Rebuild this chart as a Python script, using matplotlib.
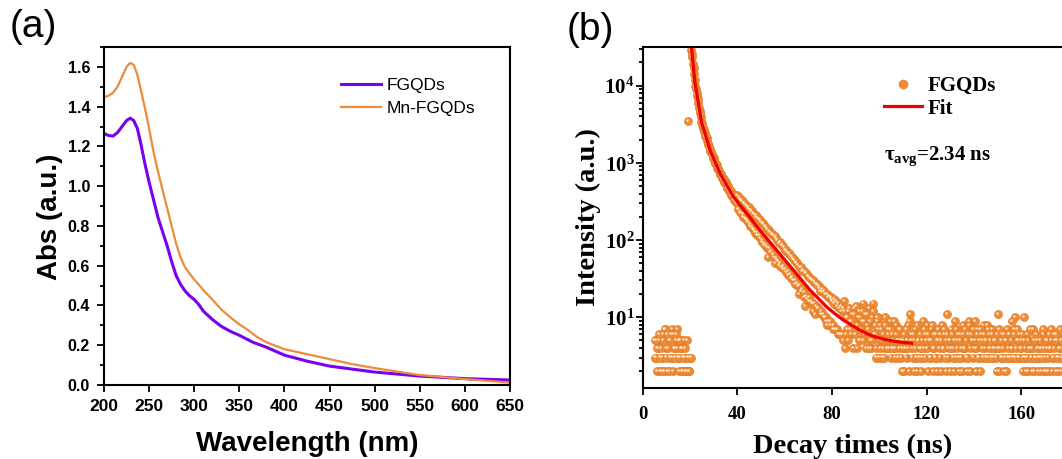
import numpy as np
import matplotlib
matplotlib.use("Agg")
import matplotlib.pyplot as plt
from matplotlib.ticker import MultipleLocator, LogLocator, FuncFormatter, NullFormatter
from matplotlib.transforms import offset_copy
from matplotlib.lines import Line2D

# ---- (a) absorption spectra ----
wl_fg = [200, 205, 210, 215, 220, 225, 229, 233, 237, 241, 245, 250, 255, 260, 265,
         270, 275, 280, 285, 290, 295, 300, 305, 310, 320, 330, 340, 350, 365, 380,
         400, 425, 450, 475, 500, 550, 600, 650]
abs_fg = [1.265, 1.255, 1.252, 1.27, 1.30, 1.33, 1.342, 1.33, 1.29, 1.21, 1.12, 1.02,
          0.93, 0.84, 0.77, 0.70, 0.62, 0.55, 0.505, 0.472, 0.448, 0.43, 0.405, 0.372,
          0.33, 0.295, 0.27, 0.25, 0.215, 0.19, 0.15, 0.12, 0.095, 0.08, 0.065,
          0.045, 0.032, 0.025]

wl_mn = [200, 205, 210, 215, 220, 225, 229, 233, 237, 241, 245, 250, 255, 260, 265,
         270, 275, 280, 285, 290, 295, 300, 305, 310, 320, 330, 340, 350, 360, 370,
         380, 400, 425, 450, 475, 500, 550, 600, 650]
abs_mn = [1.448, 1.455, 1.47, 1.50, 1.55, 1.60, 1.62, 1.61, 1.56, 1.48, 1.40, 1.29,
          1.17, 1.07, 0.98, 0.89, 0.80, 0.71, 0.64, 0.59, 0.56, 0.53, 0.505, 0.478,
          0.43, 0.38, 0.34, 0.305, 0.275, 0.24, 0.215, 0.18, 0.155, 0.13, 0.105,
          0.085, 0.05, 0.03, 0.012]

# ---- (b) PL decay, counts per channel (channels every 0.25 ns, split in two lists) ----
t_start = 5.0
t_step = 0.5
counts = [
    5, 3, 2, 4, 5, 2, 3, 6, 2, 7,
    4, 2, 5, 3, 6, 7, 2, 4, 5, 7,
    3, 2, 5, 4, 2, 5, 3, 2, 3500, 2,
    3, 29000, 23500, 16800, 11800, 9000, 7300, 6000, 4700, 3950,
    3250, 2800, 2600, 2230, 2080, 1780, 1650, 1430, 1370, 1200,
    1150, 1010, 980, 860, 830, 720, 710, 640, 630, 560,
    560, 490, 500, 430, 445, 380, 395, 340, 355, 310,
    380, 250, 340, 225, 320, 200, 300, 185, 275, 170,
    255, 150, 235, 140, 215, 125, 200, 115, 185, 105,
    170, 95, 160, 85, 145, 80, 60, 130, 70, 120,
    115, 60, 50, 105, 55, 48, 95, 45, 85, 42,
    75, 38, 70, 35, 65, 32, 60, 30, 55, 27,
    50, 25, 20, 44, 22, 40, 18, 14, 37, 17,
    34, 16, 31, 15, 12, 29, 11, 27, 13, 25,
    22, 11, 21, 10, 20, 9, 8, 18, 8, 17,
    16, 7, 15, 7, 14, 6, 13, 6, 12, 5,
    16, 4, 10, 7, 12, 9, 6, 11, 8, 13,
    7, 4, 10, 12, 5, 9, 15, 6, 11, 4,
    8, 13, 5, 4, 10, 15, 6, 3, 9, 7,
    3, 8, 3, 6, 3, 10, 5, 7, 4, 9,
    3, 6, 4, 3, 8, 5, 3, 7, 3, 2,
    5, 2, 4, 3, 8, 2, 11, 6, 3, 2,
    7, 3, 2, 5, 4, 2, 3, 9, 4, 6,
    8, 2, 5, 3, 7, 2, 4, 3, 6, 2,
    5, 3, 2, 8, 4, 6, 2, 11, 3, 5,
    2, 7, 4, 2, 9, 3, 5, 2, 6, 3,
    2, 8, 4, 3, 2, 6, 9, 2, 5, 3,
    4, 9, 2, 7, 3, 2, 6, 5, 8, 4,
    5, 8, 3, 6, 4, 7, 3, 5, 4, 2,
    11, 2, 4, 3, 6, 2, 5, 2, 7, 3,
    6, 4, 9, 3, 7, 10, 5, 3, 6, 4,
    5, 2, 10, 3, 2, 6, 2, 4, 3, 2,
    7, 2, 3, 5, 2, 4, 3, 2, 6, 2,
    3, 2, 5, 2, 4, 7, 2, 3, 6, 2,
    5, 2, 3, 4, 2, 6, 3, 2, 5, 3, 4,
]
counts_mid = [
    3, 5, 4, 6, 3, 4, 2, 5, 7, 3,
    6, 4, 2, 5, 3, 6, 4, 3, 6, 4,
    5, 3, 4, 2, 3, 4, 2, 5, 3, 2,
    3, 26000, 19000, 14200, 9800, 8000, 6700, 5200, 4400, 3400,
    3100, 2650, 2450, 2200, 1900, 1750, 1510, 1380, 1310, 1160,
    1100, 990, 930, 840, 790, 710, 690, 620, 610, 545,
    540, 470, 480, 420, 430, 370, 385, 330, 350, 300,
    250, 360, 230, 330, 215, 305, 195, 285, 180, 265,
    160, 245, 148, 225, 135, 210, 125, 195, 115, 180,
    100, 165, 90, 150, 85, 140, 78, 128, 72, 118,
    65, 112, 58, 100, 54, 92, 50, 86, 46, 80,
    42, 74, 39, 68, 36, 62, 33, 57, 30, 52,
    28, 48, 26, 45, 23, 41, 21, 38, 19, 34,
    18, 32, 16, 30, 15, 28, 14, 26, 13, 24,
    12, 23, 11, 22, 10, 20, 9, 19, 9, 18,
    8, 17, 7, 16, 7, 15, 6, 14, 6, 13,
    12, 6, 10, 5, 13, 7, 9, 4, 11, 6,
    14, 8, 5, 10, 7, 12, 5, 9, 6, 11,
    7, 4, 9, 5, 12, 6, 8, 4, 10, 5,
    4, 7, 5, 4, 8, 5, 4, 6, 5, 7,
    4, 5, 9, 4, 6, 5, 4, 7, 5, 4,
    6, 4, 7, 5, 4, 9, 5, 4, 6, 5,
    4, 8, 5, 3, 6, 4, 5, 7, 3, 5,
    4, 6, 3, 5, 8, 4, 6, 3, 5, 7,
    4, 6, 5, 4, 7, 3, 5, 6, 4, 5,
    4, 6, 3, 5, 7, 4, 6, 3, 5, 4,
    6, 4, 7, 5, 3, 8, 4, 6, 5, 7,
    5, 4, 6, 3, 5, 7, 4, 3, 6, 5,
    3, 7, 4, 5, 3, 6, 4, 5, 3, 6,
    4, 7, 5, 3, 4, 6, 3, 5, 4, 6,
    3, 5, 4, 6, 3, 4, 7, 5, 3, 4,
    6, 3, 5, 4, 3, 5, 4, 7, 3, 4,
    5, 3, 6, 4, 3, 5, 4, 3, 7, 4,
    5, 4, 3, 6, 4, 5, 3, 4, 5, 6,
    3, 4, 7, 5, 3, 4, 6, 3, 5, 4, 3,
]
times = t_start + t_step * np.arange(len(counts))
times_mid = t_start + t_step / 2 + t_step * np.arange(len(counts_mid))
all_t = np.concatenate([times, times_mid])
all_c = np.concatenate([counts, counts_mid])

fit_t = [20.7, 21.4, 22.1, 23.5, 24.9, 26.6, 28.4, 30.5, 32.6, 35.5, 38.3, 41.1,
         43.9, 46.7, 49.5, 53.0, 56.6, 60.1, 63.6, 67.1, 70.7, 74.2, 77.7, 81.2,
         84.7, 88.2, 91.8, 95.3, 98.8, 102.3, 105.9, 109.7, 113.6]
fit_i = [29500, 17500, 10800, 5960, 3280, 2250, 1470, 1040, 735, 513, 365, 284,
         222, 173, 135, 100, 74, 55, 41, 30.5, 22.4, 17.5, 13.6, 11.1, 9.2, 7.9,
         6.8, 6.0, 5.5, 5.15, 4.9, 4.72, 4.6]

plt.rcParams['mathtext.fontset'] = 'custom'
plt.rcParams['mathtext.rm'] = 'Liberation Serif'
plt.rcParams['mathtext.bf'] = 'Liberation Serif:bold'
plt.rcParams['mathtext.it'] = 'Liberation Serif:italic'

sans = 'Liberation Sans'
serif = 'Liberation Serif'

fig = plt.figure(figsize=(10.62, 4.59), dpi=100)

# ---------------- panel (a) ----------------
ax1 = fig.add_axes([104 / 1062, 1 - 385 / 459, 406 / 1062, 338 / 459])
ax1.plot(wl_fg, abs_fg, color='#7A00F0', lw=2.2, label='FGQDs')
ax1.plot(wl_mn, abs_mn, color='#EE8A3C', lw=1.6, label='Mn-FGQDs')
ax1.set_xlim(200, 650)
ax1.set_ylim(0, 1.7)
ax1.xaxis.set_major_locator(MultipleLocator(50))
ax1.yaxis.set_major_locator(MultipleLocator(0.2))
ax1.yaxis.set_minor_locator(MultipleLocator(0.1))
ax1.tick_params(which='both', direction='out', width=1.3, top=False, right=False)
ax1.tick_params(which='major', length=5, pad=5)
ax1.tick_params(which='minor', length=3)
for s in ax1.spines.values():
    s.set_linewidth(1.5)
for lab in ax1.get_xticklabels():
    lab.set_family(sans)
    lab.set_fontweight('bold')
    lab.set_fontsize(12.5)
for lab in ax1.get_yticklabels():
    lab.set_family(sans)
    lab.set_fontweight('bold')
    lab.set_fontsize(11.5)
ax1.legend(frameon=False, loc='upper left', bbox_to_anchor=(341 / 1062, 1 - 78 / 459),
           bbox_transform=fig.transFigure, borderpad=0, borderaxespad=0,
           handlelength=2.3, handletextpad=0.3, labelspacing=0.45,
           prop={'family': sans, 'size': 12.5})

fig.text(307 / 1062, 1 - 444 / 459, 'Wavelength (nm)', ha='center', va='center',
         family=sans, fontweight='bold', fontsize=20)
fig.text(50 / 1062, 1 - 217 / 459, 'Abs (a.u.)', ha='center', va='center',
         rotation=90, family=sans, fontweight='bold', fontsize=20)
fig.text(33 / 1062, 1 - 27 / 459, '(a)', ha='center', va='center',
         family=sans, fontsize=28)

# ---------------- panel (b) ----------------
ax2 = fig.add_axes([642.7 / 1062, 1 - 387.7 / 459, 426 / 1062, 341 / 459])
ax2.set_yscale('log')
ax2.scatter(all_t, all_c, s=34, color='#EE8B36', edgecolors='#E07A22',
            linewidths=0.4, zorder=2)
hl = offset_copy(ax2.transData, fig=fig, x=-0.8, y=0.8, units='points')
ax2.scatter(all_t, all_c, s=3, color='#FFE6CC', linewidths=0, transform=hl,
            zorder=3)
ax2.plot(fit_t, fit_i, color='#F00000', lw=2.3, zorder=4)
ax2.set_xlim(0, 180)
ax2.set_ylim(1.22, 32000)
ax2.xaxis.set_major_locator(MultipleLocator(40))
ax2.yaxis.set_major_locator(LogLocator(base=10, numticks=10))
ax2.yaxis.set_minor_locator(LogLocator(base=10, subs=range(2, 10), numticks=50))
ax2.yaxis.set_minor_formatter(NullFormatter())
ax2.yaxis.set_major_formatter(FuncFormatter(lambda v, p: r'$\mathbf{10^{%d}}$' % round(np.log10(v))))
ax2.tick_params(which='both', direction='out', width=1.3, top=False, right=False)
ax2.tick_params(axis='x', which='major', length=5, pad=8)
ax2.tick_params(axis='y', which='major', length=5, pad=1)
ax2.tick_params(axis='y', which='minor', length=3)
for s in ax2.spines.values():
    s.set_linewidth(1.5)
for lab in ax2.get_xticklabels():
    lab.set_family(serif)
    lab.set_fontweight('bold')
    lab.set_fontsize(13.5)
for lab in ax2.get_yticklabels():
    lab.set_fontsize(15)

h_dot = Line2D([], [], ls='none', marker='o', ms=6, color='#EE8B36')
h_fit = Line2D([], [], color='#F00000', lw=2.3)
ax2.legend([h_dot, h_fit], ['FGQDs', 'Fit'], frameon=False, loc='upper left',
           bbox_to_anchor=(884 / 1062, 1 - 76 / 459), bbox_transform=fig.transFigure,
           borderpad=0, borderaxespad=0, handlelength=1.8, handletextpad=0.3,
           labelspacing=0.12, prop={'family': serif, 'weight': 'bold', 'size': 15})
fig.text(884 / 1062, 1 - 156 / 459, r'τ$_{\mathbf{avg}}$=2.34 ns', ha='left', va='center',
         family=serif, fontweight='bold', fontsize=15)

fig.text(853 / 1062, 0.0, 'Decay times (ns)', ha='center', va='bottom',
         family=serif, fontweight='bold', fontsize=20.5)
fig.text(588 / 1062, 1 - 217 / 459, 'Intensity (a.u.)', ha='center', va='center',
         rotation=90, family=serif, fontweight='bold', fontsize=20.5)
fig.text(590 / 1062, 1 - 30 / 459, '(b)', ha='center', va='center',
         family=sans, fontsize=28)

fig.savefig('out.png', dpi=100)
